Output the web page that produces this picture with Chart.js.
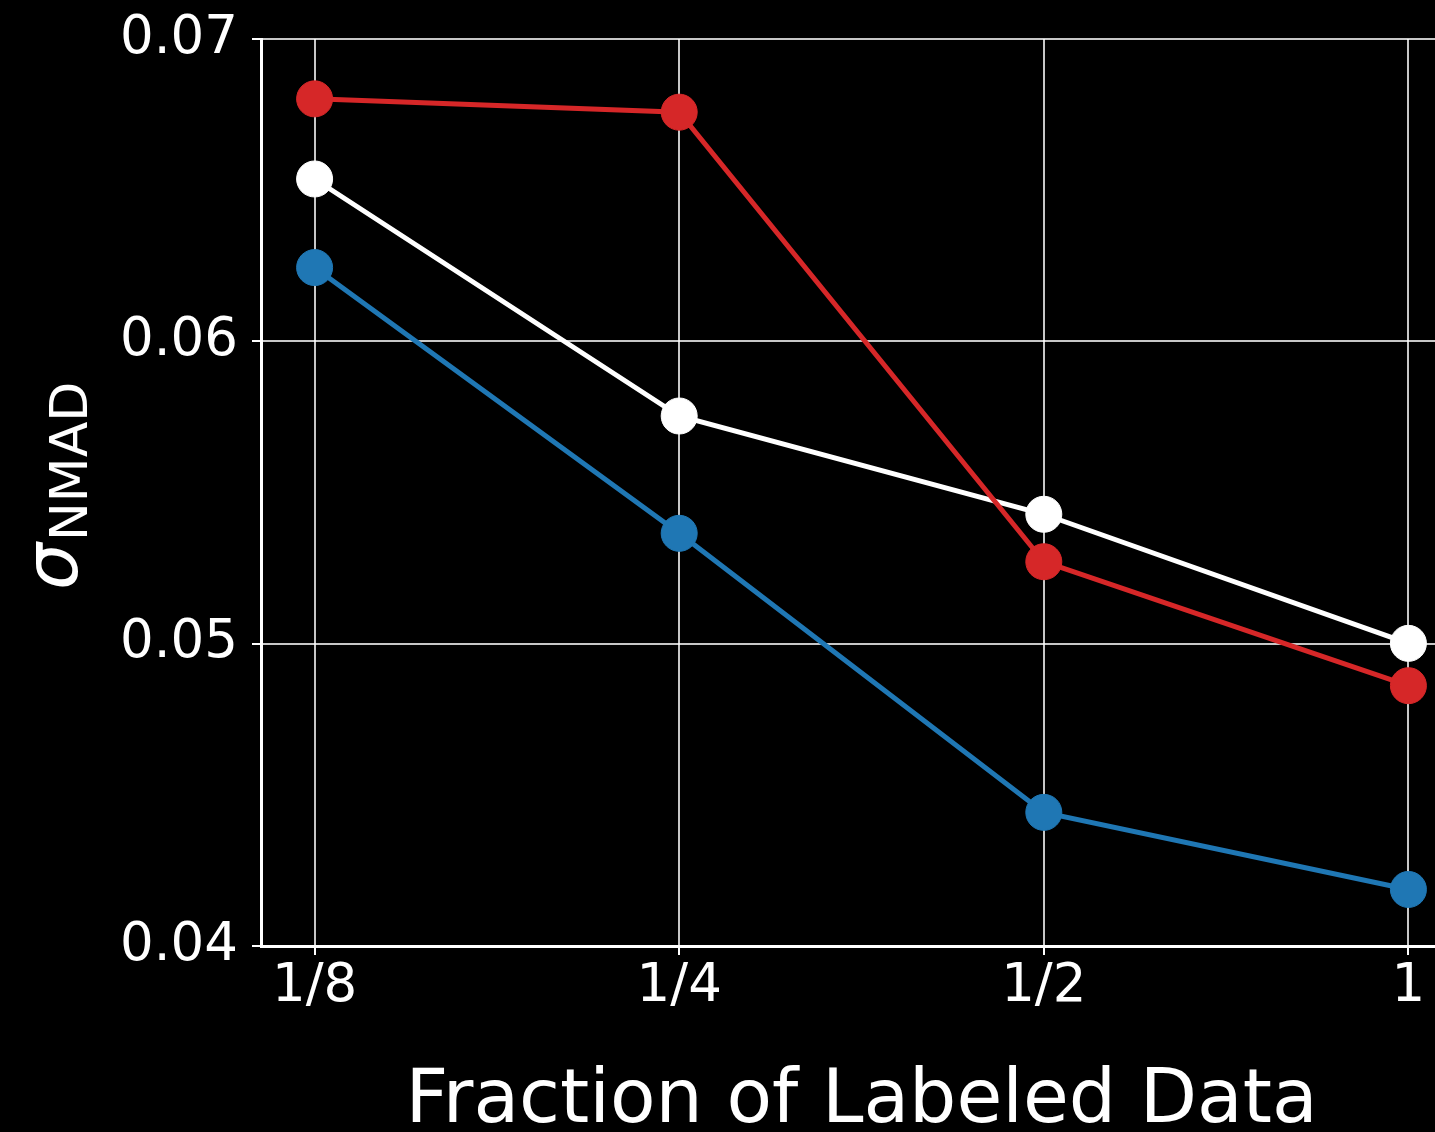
<!DOCTYPE html>
<html>
<head>
<meta charset="utf-8">
<script src="https://cdn.jsdelivr.net/npm/chart.js@4.4.1/dist/chart.umd.min.js"></script>
<style>
  html, body { margin: 0; padding: 0; background: #000; overflow: hidden; }
  #wrap { position: relative; width: 1435px; height: 1132px; overflow: hidden; }
  #chart { position: absolute; left: 0; top: 0; }
</style>
</head>
<body>
<div id="wrap"><canvas id="chart" width="1481" height="1132"></canvas></div>
<script>
// fractions of labeled data (x categories)
const fractions = ['1/8', '1/4', '1/2', '1'];
// sigma_NMAD per series
const redSeries = [0.06802, 0.06758, 0.05271, 0.04861];
const whiteSeries = [0.06537, 0.05753, 0.05428, 0.05001];
const blueSeries = [0.06244, 0.05365, 0.04442, 0.04187];
const yTicks = [0.04, 0.05, 0.06, 0.07];

const FONT = "'DejaVu Sans', sans-serif";

function toPoints(vals) {
    return vals.map((v, i) => ({ x: i, y: v }));
}

function lineSet(vals, color) {
    return {
        data: toPoints(vals),
        borderColor: color,
        backgroundColor: color,
        borderWidth: 5,
        pointRadius: 18,
        pointBorderWidth: 1,
        pointHoverRadius: 18,
        tension: 0,
    };
}

// y axis title: sigma with NMAD subscript, rotated
const yTitlePlugin = {
    id: 'yTitle',
    afterDraw(chart) {
        const ctx = chart.ctx;
        ctx.save();
        ctx.translate(77, 590);
        ctx.rotate(-Math.PI / 2);
        ctx.fillStyle = '#fff';
        ctx.textBaseline = 'alphabetic';
        ctx.font = "italic 74px " + FONT;
        ctx.fillText('σ', 0, 0);
        const w = ctx.measureText('σ').width;
        ctx.font = "52px " + FONT;
        ctx.fillText('NMAD', w + 2, 10);
        ctx.restore();
    }
};

new Chart(document.getElementById('chart'), {
    type: 'line',
    data: {
        datasets: [
            lineSet(redSeries, '#d62728'),
            lineSet(whiteSeries, '#ffffff'),
            lineSet(blueSeries, '#1f77b4'),
        ]
    },
    options: {
        responsive: false,
        animation: false,
        layout: { padding: { top: 39, right: 1, left: 0, bottom: 0 } },
        plugins: {
            legend: { display: false },
            tooltip: { enabled: false },
        },
        scales: {
            x: {
                type: 'linear',
                min: -0.147,
                max: 3.147,
                afterBuildTicks: scale => {
                    scale.ticks = fractions.map((f, i) => ({ value: i }));
                },
                afterFit: scale => {
                    scale.height = 186;
                    scale.paddingLeft = 0;
                    scale.paddingRight = 0;
                },
                ticks: {
                    color: '#fff',
                    font: { family: FONT, size: 53 },
                    padding: 0,
                    maxRotation: 0,
                    autoSkip: false,
                    callback: v => fractions[v],
                },
                grid: {
                    color: 'rgba(255,255,255,0.78)',
                    lineWidth: 2,
                    tickLength: 9,
                    tickColor: '#fff',
                    tickWidth: 2,
                },
                border: { color: '#fff', width: 3 },
                title: {
                    display: true,
                    text: 'Fraction of Labeled Data',
                    color: '#fff',
                    font: { family: FONT, size: 74.5, lineHeight: 0.8 },
                    padding: { top: 0, bottom: 0 },
                },
            },
            y: {
                min: 0.04,
                max: 0.07,
                afterBuildTicks: scale => {
                    scale.ticks = yTicks.map(v => ({ value: v }));
                },
                afterFit: scale => {
                    scale.width = 261;
                    scale.paddingTop = 0;
                    scale.paddingBottom = 0;
                },
                ticks: {
                    color: '#fff',
                    font: { family: FONT, size: 53 },
                    padding: 14,
                    callback: v => v.toFixed(2),
                },
                grid: {
                    color: 'rgba(255,255,255,0.78)',
                    lineWidth: 2,
                    tickLength: 9,
                    tickColor: '#fff',
                    tickWidth: 2,
                },
                border: { color: '#fff', width: 3 },
            },
        },
    },
    plugins: [yTitlePlugin],
});
</script>
</body>
</html>
